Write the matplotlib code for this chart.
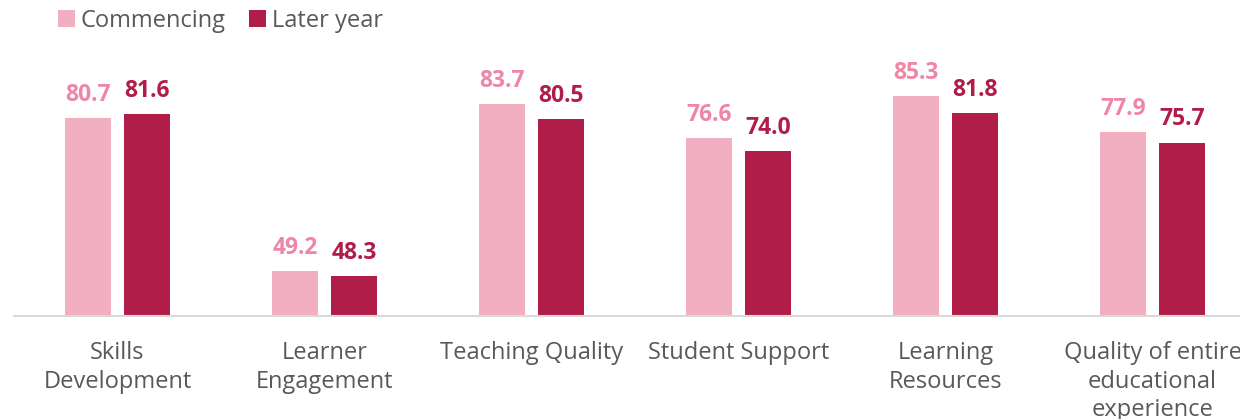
import numpy as np
import matplotlib.pyplot as plt

categories = ["Skills\nDevelopment", "Learner\nEngagement", "Teaching Quality",
              "Student Support", "Learning\nResources",
              "Quality of entire\neducational\nexperience"]
commencing = [80.7, 49.2, 83.7, 76.6, 85.3, 77.9]
later_year = [81.6, 48.3, 80.5, 74.0, 81.8, 75.7]

c_light = "#F2AFC2"
c_dark = "#B01D48"
t_light = "#EF86A5"
t_dark = "#B01D48"
grey = "#595959"

plt.rcParams['font.family'] = ['Open Sans', 'DejaVu Sans']

fig = plt.figure(figsize=(12.4, 4.19), dpi=100)
# axes runs past the right edge, like the original (last label is cut off)
ax = fig.add_axes([14 / 1240, (419 - 316) / 419, 1242 / 1240, 0.62])

x = np.arange(len(categories))
w = 0.222
off = 0.1425
b1 = ax.bar(x - off, commencing, w, color=c_light, label="Commencing", zorder=2)
b2 = ax.bar(x + off, later_year, w, color=c_dark, label="Later year", zorder=2)

for xi, v in zip(x, commencing):
    ax.text(xi - off, v + 2.3, f"{v:.1f}", ha="center", va="bottom",
            fontsize=16.5, fontweight="bold", color=t_light)
for xi, v in zip(x, later_year):
    ax.text(xi + off, v + 2.3, f"{v:.1f}", ha="center", va="bottom",
            fontsize=16.5, fontweight="bold", color=t_dark)

ax.set_xlim(-0.5, len(categories) - 0.5)
ax.set_ylim(40, 93.5)
ax.set_xticks(x)
ax.set_xticklabels(categories, fontsize=17, color=grey, linespacing=1.25)
ax.tick_params(axis="x", length=0, pad=18)
ax.set_yticks([])
for s in ["top", "right", "left"]:
    ax.spines[s].set_visible(False)
ax.spines["bottom"].set_color("#D9D9D9")
ax.spines["bottom"].set_linewidth(1.5)

fig.legend(handles=[b1, b2], loc="upper left", bbox_to_anchor=(0.03, 1.03),
           ncol=2, frameon=False, fontsize=17, labelcolor=grey,
           handlelength=0.7, handleheight=0.7, handletextpad=0.25,
           columnspacing=1.0)

fig.savefig("out.png", dpi=100)
